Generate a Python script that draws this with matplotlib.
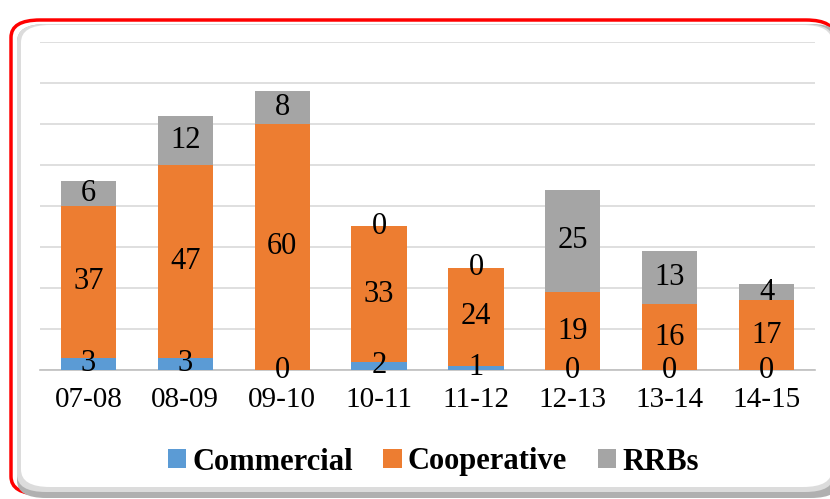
from matplotlib import pyplot as plt
from matplotlib.patches import FancyBboxPatch
import numpy as np

# data
years = ['07-08', '08-09', '09-10', '10-11', '11-12', '12-13', '13-14', '14-15']
commercial = [3, 3, 0, 2, 1, 0, 0, 0]
cooperative = [37, 47, 60, 33, 24, 19, 16, 17]
rrbs = [6, 12, 8, 0, 0, 25, 13, 4]

plt.rcParams['font.family'] = ['Liberation Serif', 'DejaVu Serif']

fig = plt.figure(figsize=(8.3, 4.99), dpi=100)
W, H = 830, 499


def box(x0, y0, x1, y1, fc, ec='none', lw=0, z=0):
    # pixel box (top-left origin) -> rounded patch in figure coords
    p = FancyBboxPatch((x0 / W, 1 - y1 / H), (x1 - x0) / W, (y1 - y0) / H,
                       boxstyle='round,pad=0,rounding_size=0.035',
                       transform=fig.transFigure, facecolor=fc,
                       edgecolor=ec, linewidth=lw, zorder=z)
    fig.patches.append(p)


# rounded red frame with a bevel shadow inside
box(11, 20, 835, 494, 'white', '#FF0000', 2.5, 0)
box(17, 24, 840, 498, '#B0B0B0', z=1)
box(17, 24, 834, 492, '#DCDCDC', z=1)
box(21, 25, 832, 487, 'white', z=1)

ax = fig.add_axes([40 / W, 1 - 370 / H, 775 / W, 328 / H])
ax.set_zorder(2)
ax.patch.set_alpha(0)

x = np.arange(len(years))
w = 0.57
b1 = ax.bar(x, commercial, w, color='#5B9BD5', label='Commercial', zorder=3)
b2 = ax.bar(x, cooperative, w, bottom=commercial, color='#ED7D31',
            label='Cooperative', zorder=3)
bottom2 = np.array(commercial) + np.array(cooperative)
b3 = ax.bar(x, rrbs, w, bottom=bottom2, color='#A5A5A5', label='RRBs', zorder=3)

for bars in (b1, b2, b3):
    ax.bar_label(bars, label_type='center', fontsize=22, color='black', zorder=4)

ax.set_xlim(-0.5, 7.5)
ax.set_ylim(0, 80)
ax.set_yticks(np.arange(0, 81, 10))
ax.set_yticklabels([])
ax.tick_params(axis='y', length=0)
ax.tick_params(axis='x', length=0, labelsize=21, pad=12)
ax.set_xticks(x)
ax.set_xticklabels(years)
ax.grid(axis='y', color='#D9D9D9', linewidth=1.2, zorder=0)
for s in ['top', 'right', 'left']:
    ax.spines[s].set_visible(False)
ax.spines['bottom'].set_color('#BFBFBF')
ax.spines['bottom'].set_linewidth(1.2)

leg = fig.legend(handles=[b1, b2, b3], loc='center', bbox_to_anchor=(0.522, 1 - 462 / H),
                 ncol=3, frameon=False, prop={'weight': 'bold', 'size': 22},
                 handlelength=0.6, handleheight=0.6, handletextpad=0.2,
                 columnspacing=1.0)
leg.set_zorder(3)

fig.savefig('out.png', dpi=100)
